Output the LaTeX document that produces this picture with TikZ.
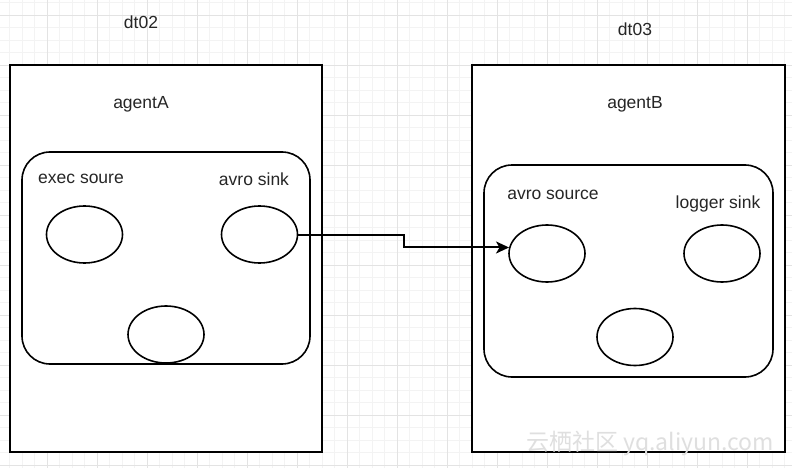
\documentclass[tikz,border=0pt]{standalone}
\usepackage{fontspec}
\setmainfont{Liberation Sans}
\newfontfamily\cjkfont{Noto Sans CJK SC}
\usetikzlibrary{arrows.meta,shapes.geometric}
\definecolor{gridminor}{HTML}{F3F3F3}
\definecolor{gridmajor}{HTML}{E3E3E3}
\tikzset{
  hostbox/.style={draw=black, line width=2pt, fill=white, inner sep=0pt},
  agentbox/.style={draw=black, line width=1.6pt, fill=white, rounded corners=28pt, inner sep=0pt, minimum width=288pt, minimum height=212pt},
  comp/.style={draw=black, line width=1.6pt, fill=white, ellipse, inner sep=0pt, minimum width=76pt, minimum height=57pt},
  lbl/.style={font=\fontsize{17.5}{20}\selectfont, inner sep=0pt, text=black!85},
  flowtip/.tip={Stealth[length=13pt, width=12pt, inset=3.5pt]},
}
\begin{document}
\begin{tikzpicture}[x=1pt, y=-1pt]
\useasboundingbox (0,0) rectangle (792,468);
\fill[white] (0,0) rectangle (792,468);
% grid
\foreach \i in {0,...,64} \draw[gridminor, line width=0.8pt] ({-3+12.5*\i},0) -- ++(0,468);
\foreach \i in {0,...,37} \draw[gridminor, line width=0.8pt] (0,{2.5+12.5*\i}) -- ++(792,0);
\foreach \i in {0,...,16} \draw[gridmajor, line width=0.9pt] ({-3+50*\i},0) -- ++(0,468);
\foreach \i in {0,...,9} \draw[gridmajor, line width=0.9pt] (0,{15+50*\i}) -- ++(792,0);

% hosts
\node[hostbox, minimum width=312pt, minimum height=387pt] (hostA) at (166,258.5) {};
\node[hostbox, minimum width=313pt, minimum height=387pt] (hostB) at (628.5,258.5) {};
\node[lbl] (dtA) at (141,22) {dt02};
\node[lbl] (dtB) at (635,29) {dt03};
\node[lbl] (agA) at (141,104) {agentA};
\node[lbl] (agB) at (635,104) {agentB};

% agents
\node[agentbox] (innerA) at (166,258) {};
\node[agentbox, minimum width=289pt] (innerB) at (628.5,271) {};

% components A
\node[comp] (srcA) at (84.5,234.5) {};
\node[comp] (sinkA) at (259.5,234.5) {};
\node[comp] (chA) at (166,334.5) {};
\node[lbl] (srcAl) at (81,179) {exec soure};
\node[lbl] (sinkAl) at (254,179) {avro sink};

% components B
\node[comp] (srcB) at (547,253.5) {};
\node[comp] (sinkB) at (722,253.5) {};
\node[comp] (chB) at (635,337) {};
\node[lbl] (srcBl) at (553,195) {avro source};
\node[lbl] (sinkBl) at (718,204) {logger sink};

% connector
\coordinate (jog) at (404,0);
\draw[black, line width=2pt, -flowtip] (sinkA.east) -| (jog |- srcB.171.6) -- (srcB.171.6);

% watermark
\node[font=\cjkfont\fontsize{23}{25}\selectfont, text=gray!25, inner sep=0pt] (wm) at (650,443) {云栖社区 yq.aliyun.com};
\end{tikzpicture}
\end{document}
